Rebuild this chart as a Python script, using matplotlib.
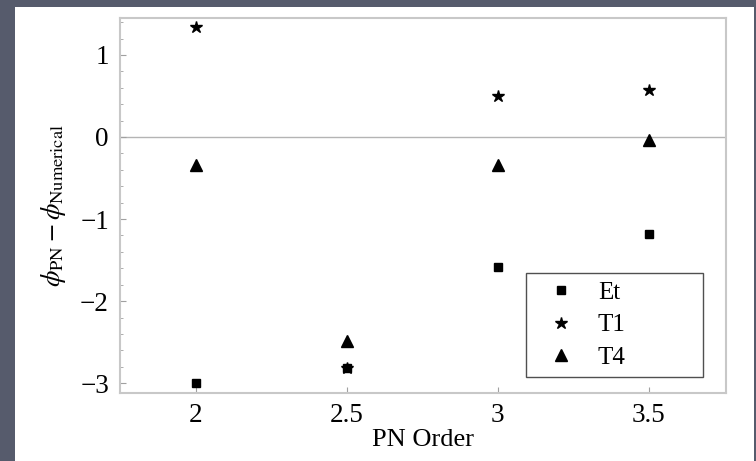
import matplotlib
matplotlib.use("Agg")
import matplotlib.pyplot as plt
from matplotlib.patches import Rectangle
from matplotlib.ticker import MultipleLocator

# PN order on x, phase difference on y
pn = [2, 2.5, 3, 3.5]
et = [-3.0, -2.82, -1.585, -1.18]
t1 = [1.34, -2.82, 0.50, 0.57]
t4 = [-0.34, -2.49, -0.34, -0.04]

plt.rcParams['font.family'] = ['Liberation Serif', 'DejaVu Serif']
plt.rcParams['mathtext.fontset'] = 'stix'

fig = plt.figure(figsize=(7.56, 4.61), dpi=100)
fig.patch.set_facecolor('#565b6c')
fig.patches.append(Rectangle((15/756, 0), (754-15)/756, (461-7)/461,
                             transform=fig.transFigure, facecolor='white',
                             edgecolor='none', zorder=-10))

ax = fig.add_axes([120/756, 68/461, 606/756, 375/461])
ax.set_facecolor('white')

ax.axhline(0, color='#b4b4b4', lw=1.0, zorder=1)

ax.plot(pn, et, ls='none', marker='s', ms=6, color='black', label='Et', zorder=3)
ax.plot(pn, t1, ls='none', marker='*', ms=9, color='black', label='T1', zorder=3)
ax.plot(pn, t4, ls='none', marker='^', ms=8, color='black', label='T4', zorder=3)

ax.set_xlim(1.75, 3.755)
ax.set_ylim(-3.12, 1.45)
ax.set_xticks([2, 2.5, 3, 3.5])
ax.set_xticklabels(['2', '2.5', '3', '3.5'])
ax.set_yticks([-3, -2, -1, 0, 1])
ax.yaxis.set_minor_locator(MultipleLocator(0.2))

for s in ax.spines.values():
    s.set_color('#c8c8c8')
    s.set_linewidth(1.5)

ax.tick_params(axis='both', which='both', direction='in', colors='#a0a0a0',
               labelcolor='black', labelsize=19.5, top=False, right=False)
ax.tick_params(axis='y', which='major', length=4, width=0.8, pad=8)
ax.tick_params(axis='y', which='minor', length=2.5, width=0.6)
ax.tick_params(axis='x', which='major', length=4, width=0.8, pad=7)
ax.tick_params(axis='x', which='minor', bottom=False)

ax.set_xlabel('PN Order', fontsize=19, labelpad=1)
ax.set_ylabel(r'$\phi_{\mathrm{PN}} - \phi_{\mathrm{Numerical}}$', fontsize=19, labelpad=9)

leg = ax.legend(loc='lower right', bbox_to_anchor=(406/606, 0.043, 177/606, 0.28),
                mode='expand', borderaxespad=0, fancybox=False, fontsize=18,
                handlelength=2.16, handletextpad=0.4, labelspacing=0.4,
                borderpad=0.32, framealpha=1, edgecolor='#505050')
leg.get_frame().set_linewidth(1.0)

fig.savefig('out.png', dpi=100, facecolor=fig.get_facecolor())
